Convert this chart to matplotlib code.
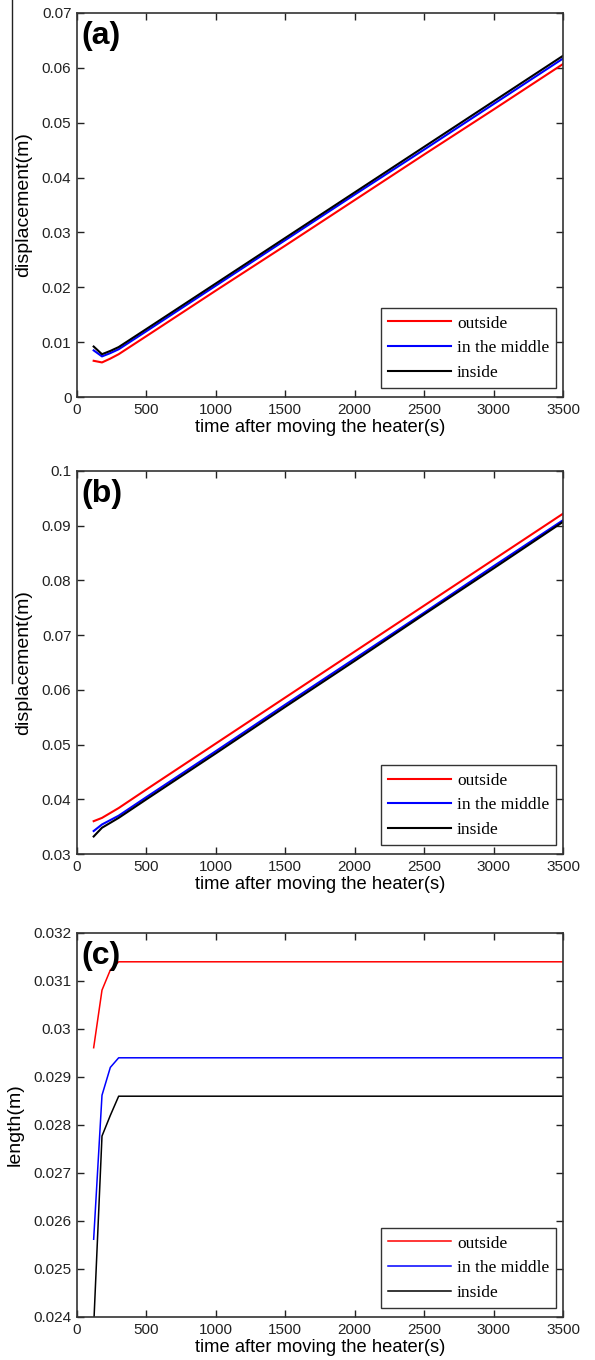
import matplotlib
matplotlib.use("Agg")
import matplotlib.pyplot as plt
from matplotlib.lines import Line2D

# ---- data ----
time_s = [120, 180, 240, 300, 500, 1000, 1500, 2000, 2500, 3000, 3500]

a_outside = [0.0066, 0.0063, 0.0070, 0.0078, 0.0111, 0.0194, 0.0276, 0.0359, 0.0442, 0.0524, 0.0607]
a_middle  = [0.0085, 0.0074, 0.0080, 0.0087, 0.0120, 0.0203, 0.0286, 0.0369, 0.0451, 0.0534, 0.0617]
a_inside  = [0.0092, 0.0078, 0.0084, 0.0091, 0.0124, 0.0207, 0.0290, 0.0373, 0.0456, 0.0539, 0.0622]

b_outside = [0.0360, 0.0366, 0.0375, 0.0384, 0.0418, 0.0502, 0.0586, 0.0670, 0.0754, 0.0838, 0.0922]
b_middle  = [0.0342, 0.0354, 0.0362, 0.0370, 0.0404, 0.0488, 0.0573, 0.0657, 0.0741, 0.0826, 0.0910]
b_inside  = [0.0332, 0.0348, 0.0357, 0.0366, 0.0400, 0.0484, 0.0569, 0.0653, 0.0738, 0.0822, 0.0907]

c_outside = [0.02961, 0.03081, 0.03123, 0.0314, 0.0314, 0.0314, 0.0314, 0.0314, 0.0314, 0.0314, 0.0314]
c_middle  = [0.02562, 0.02862, 0.0292, 0.0294, 0.0294, 0.0294, 0.0294, 0.0294, 0.0294, 0.0294, 0.0294]
c_inside  = [0.0238, 0.02777, 0.0282, 0.0286, 0.0286, 0.0286, 0.0286, 0.0286, 0.0286, 0.0286, 0.0286]

series_labels = ["outside", "in the middle", "inside"]
series_colors = ["#ff0000", "#0000ff", "#000000"]

panel_labels = ["(a)", "(b)", "(c)"]
y_labels = ["displacement(m)", "displacement(m)", "length(m)"]
x_label = "time after moving the heater(s)"
x_ticks = [0, 500, 1000, 1500, 2000, 2500, 3000, 3500]
a_yticks = [0, 0.01, 0.02, 0.03, 0.04, 0.05, 0.06, 0.07]
a_yticklabels = ["0", "0.01", "0.02", "0.03", "0.04", "0.05", "0.06", "0.07"]
b_yticks = [0.03, 0.04, 0.05, 0.06, 0.07, 0.08, 0.09, 0.1]
b_yticklabels = ["0.03", "0.04", "0.05", "0.06", "0.07", "0.08", "0.09", "0.1"]
c_yticks = [0.024, 0.025, 0.026, 0.027, 0.028, 0.029, 0.03, 0.031, 0.032]
c_yticklabels = ["0.024", "0.025", "0.026", "0.027", "0.028", "0.029", "0.03", "0.031", "0.032"]

# ---- figure ----
W, H = 595, 1360
fig = plt.figure(figsize=(W / 100, H / 100), dpi=100)
plt.rcParams["font.family"] = ["Liberation Sans", "DejaVu Sans"]

def frac_box(left, top, right, bottom):
    return [left / W, 1 - bottom / H, (right - left) / W, (bottom - top) / H]

boxes = [frac_box(77, 13, 563, 397), frac_box(77, 471, 563, 854), frac_box(77, 933, 563, 1317)]
data = [(a_outside, a_middle, a_inside), (b_outside, b_middle, b_inside), (c_outside, c_middle, c_inside)]
ylims = [(0, 0.07), (0.03, 0.1), (0.024, 0.032)]
yticks = [(a_yticks, a_yticklabels), (b_yticks, b_yticklabels), (c_yticks, c_yticklabels)]
lws = [1.5, 1.5, 1.1]

for i in range(3):
    ax = fig.add_axes(boxes[i])
    for vals, lab, col in zip(data[i], series_labels, series_colors):
        ax.plot(time_s, vals, color=col, lw=lws[i], label=lab)
    ax.set_xlim(0, 3500)
    ax.set_ylim(*ylims[i])
    ax.set_xticks(x_ticks)
    ax.set_xticklabels([str(t) for t in x_ticks])
    ax.set_yticks(yticks[i][0])
    ax.set_yticklabels(yticks[i][1])
    ax.tick_params(direction="in", length=5, width=1.0, top=True, right=True,
                   labelsize=11, colors="#222222", pad=4)
    for sp in ax.spines.values():
        sp.set_linewidth(1.2)
        sp.set_color("#333333")
    ax.set_xlabel(x_label, fontsize=13.2, labelpad=2)
    ax.set_ylabel(y_labels[i], fontsize=14, labelpad=7)
    ax.text(0.01, 0.978, panel_labels[i], transform=ax.transAxes, ha="left", va="top",
            fontsize=23, fontweight="bold")
    leg = ax.legend(loc="lower right", bbox_to_anchor=(0.986, 0.023), borderaxespad=0,
                    fancybox=False, edgecolor="#333333", framealpha=1,
                    prop={"family": "Liberation Serif", "size": 12.5},
                    handlelength=3.6, handletextpad=0.35, labelspacing=0.5,
                    borderpad=0.4)
    leg.get_frame().set_linewidth(1.0)

# thin vertical artifact line on the left edge
fig.add_artist(Line2D([12 / W, 12 / W], [1, 1 - 683 / H], color="#222222", lw=1.0))

fig.savefig("out.png", dpi=100)
